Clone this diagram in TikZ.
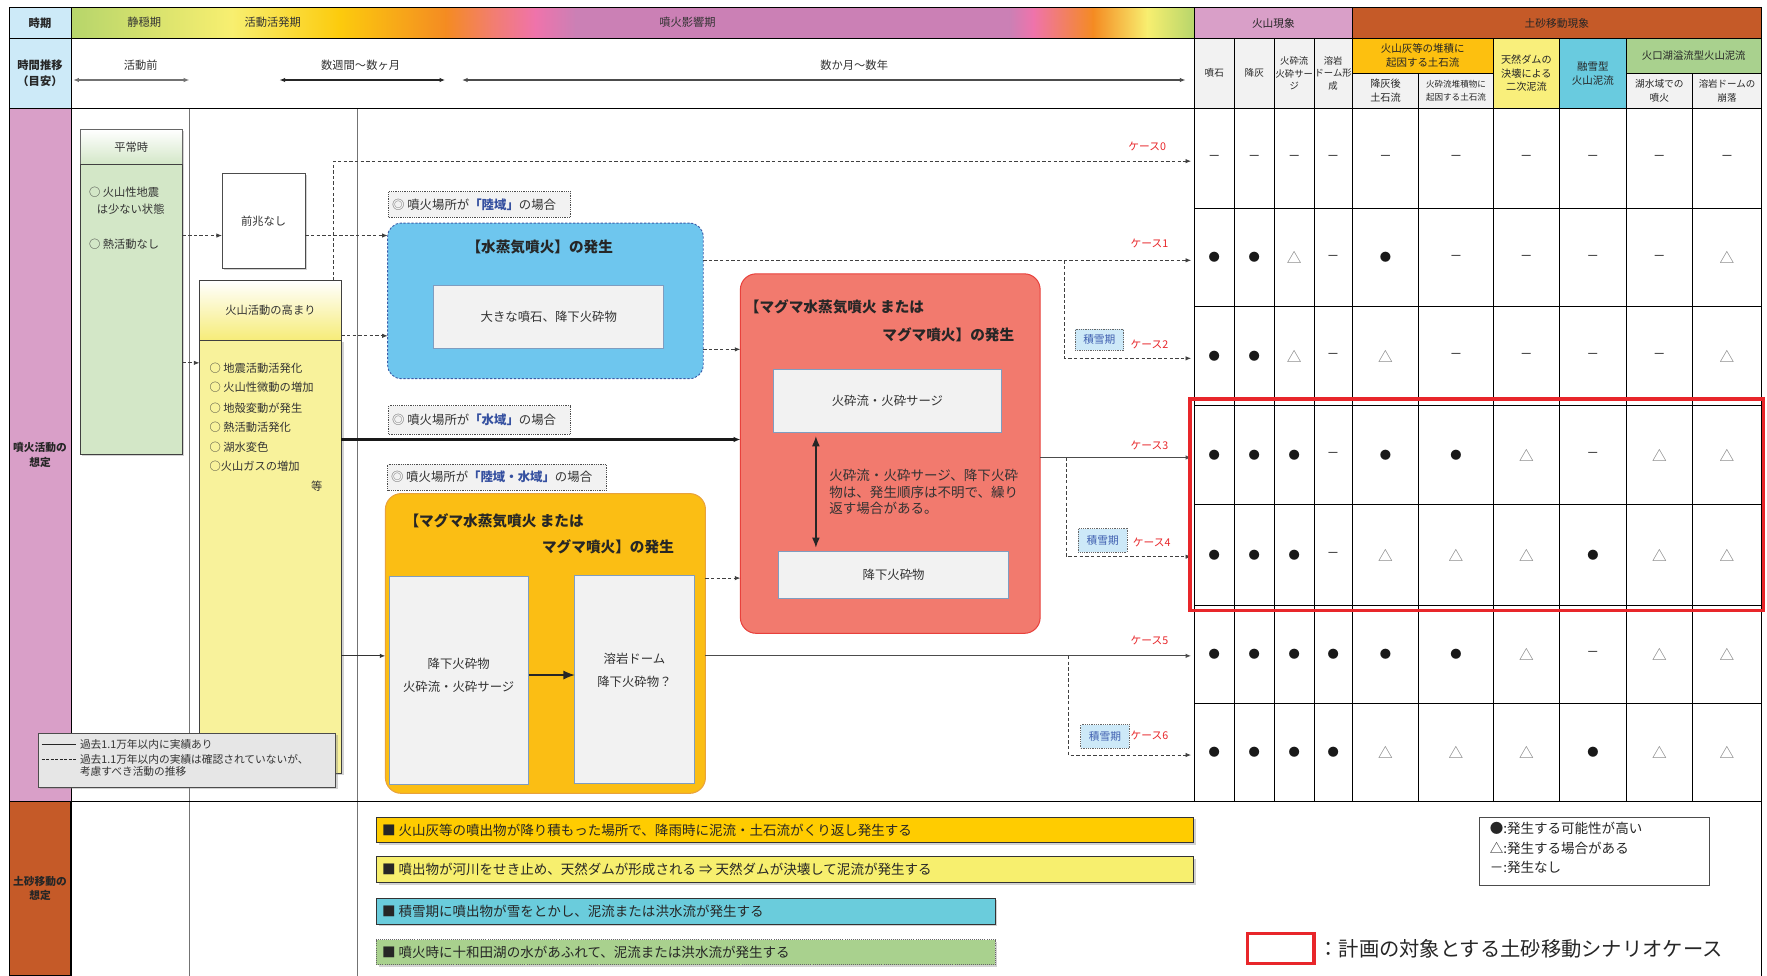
\documentclass[tikz,border=0pt]{standalone}
\usepackage{fontspec}
\setmainfont{Noto Sans CJK JP}
\usetikzlibrary{arrows.meta,shadows}
\definecolor{hdrblue}{HTML}{CDEAF8}
\definecolor{colpink}{HTML}{D99FC8}
\definecolor{colbrown}{HTML}{C55A28}
\definecolor{cellgray}{HTML}{F2F2F2}
\definecolor{cgold}{HTML}{FDC00F}
\definecolor{cpaley}{HTML}{F9EF7B}
\definecolor{ccyan}{HTML}{69CBDF}
\definecolor{cgreen}{HTML}{A9D18E}
\definecolor{gGreen}{HTML}{B6D56B}
\definecolor{gYellow}{HTML}{F8EF70}
\definecolor{gGold}{HTML}{FCCB0D}
\definecolor{gOrange}{HTML}{F48B22}
\definecolor{gSalmon}{HTML}{F27E6E}
\definecolor{gPink}{HTML}{EF73AB}
\definecolor{gMauve}{HTML}{CB80B5}
\definecolor{heijoG}{HTML}{D3E7C7}
\definecolor{takaY}{HTML}{F8F29B}
\definecolor{takaH}{HTML}{F6EC78}
\definecolor{sblue}{HTML}{6EC6EE}
\definecolor{sblueB}{HTML}{3B5BA8}
\definecolor{mred}{HTML}{F27A6E}
\definecolor{mredB}{HTML}{E8413C}
\definecolor{morange}{HTML}{FBBE14}
\definecolor{morangeB}{HTML}{E9A23B}
\definecolor{innerB}{HTML}{7F9DC0}
\definecolor{caseRed}{HTML}{E8262A}
\definecolor{snowB}{HTML}{CDE9F8}
\definecolor{snowT}{HTML}{3F5FB0}
\definecolor{legGray}{HTML}{E6E6E6}
\definecolor{landB}{HTML}{3550A0}
\definecolor{barGold}{HTML}{FFCC00}
\definecolor{barYel}{HTML}{F7EF6E}
\definecolor{barCyan}{HTML}{6ACCDC}
\definecolor{barGreen}{HTML}{A9D18E}
\newcommand\fsz[2]{\fontsize{#1}{#2}\selectfont}
\newcommand\rbox[6]{\node[#1, anchor=north west, minimum width={(#5)-(#3)}, minimum height={(#6)-(#4)}] (#2) at (#3,#4)}
\begin{document}
\begin{tikzpicture}[x=1pt,y=-1pt,
  nb/.style={inner sep=0pt, outer sep=0pt},
  cellb/.style={nb, draw=black, line width=0.8pt, align=center, text=black!85},
  hdr/.style={cellb, font=\fsz{8.5}{10.5}},
  dsh/.style={draw=black!75, line width=0.8pt, dash pattern=on 3pt off 2pt},
  sol/.style={draw=black!80, line width=0.9pt},
  arw/.style={-{Latex[length=5pt,width=4pt]}},
  darw/.style={{Latex[length=5pt,width=4pt]}-{Latex[length=5pt,width=4pt]}},
  txt/.style={nb, text=black!80},
  caselbl/.style={nb, text=caseRed, font=\fsz{9.5}{11}},
  snowbox/.style={nb, draw=black!60, densely dotted, fill=snowB, text=snowT, font=\fsz{9.5}{11}, line width=0.6pt},
  inbox/.style={nb, draw=innerB, line width=0.9pt, fill=cellgray, align=center, text=black!80, font=\fsz{11}{20}},
  plc/.style={nb, draw=black!70, densely dotted, fill=cellgray, line width=0.6pt},
  barbox/.style={nb, draw=black!80, line width=0.8pt, drop shadow={shadow xshift=2pt, shadow yshift=-2pt, fill=black!35, opacity=0.5}},
  sym/.style={nb, text=black!90},
]
\useasboundingbox (0,0) rectangle (1568,866);
\fill[white] (0,0) rectangle (1568,866);

% ---------- header gradient ----------
\foreach \a/\b/\ca/\cb in {63/206/gGreen/gYellow, 206/301/gYellow/gGold, 301/396/gGold/gOrange, 396/436/gOrange/gSalmon, 436/475/gSalmon/gPink, 475/511/gPink/gMauve, 511/896/gMauve/gMauve, 896/917/gMauve/gPink, 917/970/gPink/gOrange, 970/1018/gOrange/gYellow, 1018/1060/gYellow/gGreen}
  {\shade[left color=\ca, right color=\cb] (\a-0.3,7) rectangle (\b+0.3,34);}
\rbox{nb, draw=black, line width=0.9pt}{grad}{63}{7}{1060}{34}{};
\node[txt, font=\fsz{10}{12}] (p1) at (128,20) {静穏期};
\node[txt, font=\fsz{10}{12}] (p2) at (242,20) {活動活発期};
\node[txt, font=\fsz{10}{12}] (p3) at (610,20) {噴火影響期};

% ---------- left column ----------
\rbox{cellb, fill=hdrblue, font=\bfseries\fsz{10}{12}}{jiki}{8}{7}{63}{34}{時期};
\rbox{cellb, fill=hdrblue, font=\bfseries\fsz{10}{14}}{suii}{8}{34}{63}{96}{時間推移\\（目安）};
\rbox{cellb, fill=colpink, font=\bfseries\fsz{9.5}{13}}{funka}{8}{96}{63}{711}{噴火活動の\\想定};
\rbox{cellb, fill=colbrown, font=\bfseries\fsz{9.5}{13}}{dosha}{8}{711}{63}{866}{土砂移動の\\想定};
\rbox{cellb}{row2}{63}{34}{1060}{96}{};

% ---------- time arrows ----------
\node[txt, font=\fsz{10}{12}] (tl1) at (125,58) {活動前};
\node[txt, font=\fsz{10}{12}] (tl2) at (320,58) {数週間～数ヶ月};
\node[txt, font=\fsz{10}{12}] (tl3) at (758,58) {数か月～数年};
\coordinate (a1s) at (65,71); \coordinate (a1e) at (168,71);
\coordinate (a2s) at (248,71); \coordinate (a2e) at (395,71);
\coordinate (a3s) at (410,71); \coordinate (a3e) at (1052,71);
\draw[darw, draw=black!55, line width=1pt] (a1s) -- (a1e);
\draw[darw, draw=black!85, line width=1pt] (a2s) -- (a2e);
\draw[darw, draw=black!70, line width=1pt] (a3s) -- (a3e);

% ---------- right header ----------
\rbox{cellb, fill=colpink, font=\fsz{9.5}{12}}{kazan}{1060}{7}{1200}{34}{火山現象};
\rbox{cellb, fill=colbrown, font=\fsz{9.5}{12}}{doshaH}{1200}{7}{1563}{34}{土砂移動現象};
\rbox{hdr, fill=cellgray}{h1}{1060}{34}{1095}{96}{噴石};
\rbox{hdr, fill=cellgray}{h2}{1095}{34}{1131}{96}{降灰};
\rbox{hdr, fill=cellgray, font=\fsz{8.3}{11}}{h3}{1131}{34}{1166}{96}{火砕流\\火砕サー\\ジ};
\rbox{hdr, fill=cellgray, font=\fsz{8.3}{11}}{h4}{1166}{34}{1200}{96}{溶岩\\ドーム形\\成};
\rbox{hdr, fill=cgold, font=\fsz{9.3}{12}}{h5}{1200}{34}{1325}{65}{火山灰等の堆積に\\起因する土石流};
\rbox{hdr, fill=cellgray, font=\fsz{9}{12}}{h5a}{1200}{65}{1259}{96}{降灰後\\土石流};
\rbox{hdr, fill=cellgray, font=\fsz{7.6}{11}}{h5b}{1259}{65}{1325}{96}{火砕流堆積物に\\起因する土石流};
\rbox{hdr, fill=cpaley, font=\fsz{9}{12}}{h6}{1325}{34}{1384}{96}{天然ダムの\\決壊による\\二次泥流};
\rbox{hdr, fill=ccyan, font=\fsz{9.3}{12.5}}{h7}{1384}{34}{1443}{96}{融雪型\\火山泥流};
\rbox{hdr, fill=cgreen, font=\fsz{9.2}{12}}{h8}{1443}{34}{1563}{65}{火口湖溢流型火山泥流};
\rbox{hdr, fill=cellgray, font=\fsz{8.6}{12}}{h8a}{1443}{65}{1502}{96}{湖水域での\\噴火};
\rbox{hdr, fill=cellgray, font=\fsz{8.4}{12}}{h8b}{1502}{65}{1563}{96}{溶岩ドームの\\崩落};

% ---------- frame and grid ----------
\draw[black!55, line width=0.6pt] (168,96) -- (168,866);
\draw[black!55, line width=0.6pt] (317,96) -- (317,866);
\draw[line width=0.9pt] (8,96) -- (1563,96);
\draw[line width=1pt] (8,711) -- (1563,711);
\draw[line width=0.9pt] (1563,7) -- (1563,866);
\draw[line width=0.9pt] (63,711) -- (63,866);
\foreach \x in {1060,1095,1131,1166,1200,1259,1325,1384,1443,1502}
  {\draw[line width=0.8pt] (\x,96) -- (\x,711);}
\foreach \y in {185,272,360,448,537,624}
  {\draw[line width=0.8pt] (1060,\y) -- (1563,\y);}

% ---------- table symbols ----------
\foreach \yc/\syms [count=\r from 0] in {140.5/{n,n,n,n,n,n,n,n,n,n}, 228.5/{b,b,t,n,b,n,n,n,n,t}, 316/{b,b,t,n,t,n,n,n,n,t}, 404/{b,b,b,n,b,b,t,n,t,t}, 492.5/{b,b,b,n,t,t,t,b,t,t}, 580.5/{b,b,b,b,b,b,t,n,t,t}, 667.5/{b,b,b,b,t,t,t,b,t,t}}{
  \foreach \s [count=\c from 0] in \syms {
    \pgfmathsetmacro\xc{{1077.5,1113,1148.5,1183,1229.5,1292,1354.5,1413.5,1472.5,1532.5}[\c]}
    \node[sym] (s\r-\c) at (\xc,\yc) {\if\s b{\fsz{10}{10}●}\else\if\s t{\fsz{13}{13}\textcolor{black!55}{△}}\else{\fsz{11}{11}－}\fi\fi};
  }
}

% ---------- 平常時 ----------
\rbox{nb, draw=black!60, line width=0.8pt, top color=white, bottom color=heijoG, font=\fsz{10}{12}, text=black!80, drop shadow={shadow xshift=1.5pt, shadow yshift=-1.5pt, opacity=0.35}}{heijoH}{71}{115}{162}{146}{平常時};
\rbox{nb, draw=black!75, line width=0.8pt, fill=heijoG, drop shadow={shadow xshift=1.5pt, shadow yshift=-1.5pt, opacity=0.35}}{heijoB}{71}{146}{162}{403}{};
\node[txt, anchor=west, font=\fsz{10}{12}] (hj1) at (79,171) {○ 火山性地震};
\node[txt, anchor=west, font=\fsz{10}{12}] (hj2) at (86,186) {は少ない状態};
\node[txt, anchor=west, font=\fsz{10}{12}] (hj3) at (79,217) {○ 熱活動なし};

% ---------- 前兆なし ----------
\rbox{nb, draw=black!70, line width=0.8pt, fill=white, font=\fsz{10}{12}, text=black!80, drop shadow={shadow xshift=1.5pt, shadow yshift=-1.5pt, opacity=0.35}}{zen}{197}{154}{271}{238}{前兆なし};

% ---------- 火山活動の高まり ----------
\rbox{nb, draw=black!75, line width=0.8pt, fill=takaY, drop shadow={shadow xshift=2pt, shadow yshift=-1.5pt, opacity=0.35}}{takaB}{177}{302}{303}{686}{};
\rbox{nb, draw=black!75, line width=0.8pt, top color=white, bottom color=takaH, font=\fsz{10}{12}, text=black!80}{takaT}{177}{249}{303}{302}{火山活動の高まり};
\node[txt, anchor=west, font=\fsz{10}{12}] (tk1) at (186,327) {○ 地震活動活発化};
\node[txt, anchor=west, font=\fsz{10}{12}] (tk2) at (186,344) {○ 火山性微動の増加};
\node[txt, anchor=west, font=\fsz{10}{12}] (tk3) at (186,362) {○ 地殻変動が発生};
\node[txt, anchor=west, font=\fsz{10}{12}] (tk4) at (186,379.5) {○ 熱活動活発化};
\node[txt, anchor=west, font=\fsz{10}{12}] (tk5) at (186,396.5) {○ 湖水変色};
\node[txt, anchor=west, font=\fsz{10}{12}] (tk6) at (186,414) {○火山ガスの増加};
\node[txt, font=\fsz{10}{12}] (tk7) at (281,431) {等};

% ---------- place labels ----------
\rbox{plc}{plcL}{345}{170}{506}{193}{};
\node[txt, anchor=west, font=\fsz{11}{13}] (plcLt) at ([xshift=3pt]plcL.west) {\textcolor{black!60}{◎} 噴火場所が\textcolor{landB}{\bfseries 「陸域」}の場合};
\rbox{plc}{plcW}{345}{360}{506}{385}{};
\node[txt, anchor=west, font=\fsz{11}{13}] (plcWt) at ([xshift=3pt]plcW.west) {\textcolor{black!60}{◎} 噴火場所が\textcolor{landB}{\bfseries 「水域」}の場合};
\rbox{plc}{plcB}{344}{412}{538}{435}{};
\node[txt, anchor=west, font=\fsz{11}{13}] (plcBt) at ([xshift=3pt]plcB.west) {\textcolor{black!60}{◎} 噴火場所が\textcolor{landB}{\bfseries 「陸域・水域」}の場合};

% ---------- 水蒸気噴火 ----------
\rbox{nb, fill=sblue, draw=sblueB, line width=0.8pt, dash pattern=on 2pt off 1.5pt, rounded corners=12pt}{suijo}{344}{198}{624}{336}{};
\node[nb, font=\bfseries\fsz{13}{15}, text=black!85] (suijoT) at (479,219) {【水蒸気噴火】の発生};
\rbox{inbox}{suijoI}{385}{253}{589}{309}{大きな噴石、降下火砕物};

% ---------- マグマ (red) ----------
\rbox{nb, fill=mred, draw=mredB, line width=0.9pt, rounded corners=14pt}{magma}{657}{243}{923}{562}{};
\node[nb, anchor=west, font=\bfseries\fsz{13}{15}, text=black!85] (magmaT1) at (661,272) {【マグマ水蒸気噴火 または};
\node[nb, anchor=east, font=\bfseries\fsz{13}{15}, text=black!85] (magmaT2) at (900,297) {マグマ噴火】の発生};
\rbox{inbox}{pyro}{686}{328}{889}{384}{火砕流・火砕サージ};
\rbox{inbox}{fall}{691}{489}{895}{531}{降下火砕物};
\draw[line width=1.1pt, black!85, {Latex[length=9pt,width=7pt]}-{Latex[length=9pt,width=7pt]}, shorten <=3pt, shorten >=3pt] (pyro.south -| 724,0) -- (fall.north -| 724,0);
\node[txt, anchor=west, align=left, font=\fsz{12}{14.5}] (magmaN) at (736,436.5) {火砕流・火砕サージ、降下火砕\\物は、発生順序は不明で、繰り\\返す場合がある。};

% ---------- マグマ (orange) ----------
\rbox{nb, fill=morange, draw=morangeB, line width=0.9pt, rounded corners=14pt}{orng}{342}{438}{626}{704}{};
\node[nb, anchor=west, font=\bfseries\fsz{13}{15}, text=black!85] (orngT1) at (359,462) {【マグマ水蒸気噴火 または};
\node[nb, anchor=east, font=\bfseries\fsz{13}{15}, text=black!85] (orngT2) at (598,485) {マグマ噴火】の発生};
\rbox{inbox}{oL}{346}{512}{469}{696}{};
\node[txt, align=center, font=\fsz{11}{20}] (oLt) at (407,599) {降下火砕物\\火砕流・火砕サージ};
\rbox{inbox}{oR}{510}{511}{616}{695}{};
\node[txt, align=center, font=\fsz{11}{20}] (oRt) at (563,595) {溶岩ドーム\\降下火砕物？};
\draw[line width=1pt, black!85, -{Latex[length=10pt,width=8pt]}] (oL.east |- 0,599) -- (oR.west |- 0,599);

% ---------- table entry points ----------
\coordinate (t0) at (1057,143);
\coordinate (t1) at (1057,231);
\coordinate (t2) at (1057,318);
\coordinate (t3) at (1057,406);
\coordinate (t4) at (1057,494);
\coordinate (t5) at (1057,582);
\coordinate (t6) at (1057,670);
\coordinate (b1) at (945,231);
\coordinate (b3) at (946,406);
\coordinate (b5) at (948,582);

% ---------- connectors ----------
\draw[dsh, arw] (heijoB.east |- 0,209) -- (zen.west |- 0,209);
\draw[dsh, arw] (heijoB.east |- 0,322) -- (takaB.west |- 0,322);
\draw[dsh, arw] (zen.east |- 0,209) -- (suijo.west |- 0,209);
\draw[dsh, arw] (takaT.north -| 296,0) |- (t0);
\draw[dsh, arw] (takaT.east |- 0,298) -- (suijo.west |- 0,298);
\draw[draw=black!90, line width=2pt, -{Latex[length=6pt,width=5pt]}] (takaB.east |- 0,390) -- (magma.west |- 0,390);
\draw[sol, arw] (takaB.east |- 0,582) -- (orng.west |- 0,582);
\draw[dsh, arw] (suijo.east |- 0,231) -- (t1);
\draw[dsh, arw] (b1) |- (t2);
\draw[dsh, arw] (suijo.east |- 0,310) -- (magma.west |- 0,310);
\draw[sol, draw=black!70, arw] (magma.east |- 0,406) -- (t3);
\draw[dsh, arw] (b3) |- (t4);
\draw[dsh, arw] (orng.east |- 0,513) -- (magma.west |- 0,513);
\draw[sol, draw=black!70, arw] (orng.east |- 0,582) -- (t5);
\draw[dsh, arw] (b5) |- (t6);

% ---------- case labels ----------
\node[caselbl] (c0) at (1018,130) {ケース0};
\node[caselbl] (c1) at (1020,216) {ケース1};
\node[caselbl] (c2) at (1020,306) {ケース2};
\node[caselbl] (c3) at (1020,395) {ケース3};
\node[caselbl] (c4) at (1022,481) {ケース4};
\node[caselbl] (c5) at (1020,568) {ケース5};
\node[caselbl] (c6) at (1020,653) {ケース6};
\rbox{snowbox}{sn2}{954}{292}{997}{311}{積雪期};
\rbox{snowbox}{sn4}{957}{469}{1000}{490}{積雪期};
\rbox{snowbox}{sn6}{959}{643}{1002}{664}{積雪期};

% ---------- highlight ----------
\node[nb, draw=caseRed, line width=3pt, anchor=north west, minimum width=509, minimum height=188] (focus) at (1056,354) {};

% ---------- legend (left) ----------
\rbox{nb, fill=legGray, draw=black!70, line width=0.8pt, drop shadow={shadow xshift=1.5pt, shadow yshift=-1.5pt, opacity=0.35}}{legL}{34}{651}{298}{699}{};
\draw[black!85, line width=0.8pt] (37,661) -- (67,661);
\draw[black!85, line width=0.8pt, dash pattern=on 2.5pt off 1.5pt] (37,673.5) -- (67,673.5);
\node[txt, anchor=west, font=\fsz{9.5}{12}] (lg1) at (71,661) {過去1.1万年以内に実績あり};
\node[txt, anchor=west, font=\fsz{9.5}{12}] (lg2) at (71,673.5) {過去1.1万年以内の実績は確認されていないが、};
\node[txt, anchor=west, font=\fsz{9.5}{12}] (lg3) at (71,685) {考慮すべき活動の推移};

% ---------- bottom bars ----------
\rbox{barbox, fill=barGold}{bar1}{334}{725}{1059}{748}{};
\node[txt, anchor=west, font=\fsz{12}{14}, text=black!85] (bar1t) at ([xshift=5pt]bar1.west) {■ 火山灰等の噴出物が降り積もった場所で、降雨時に泥流・土石流がくり返し発生する};
\rbox{barbox, fill=barYel}{bar2}{334}{760}{1059}{783}{};
\node[txt, anchor=west, font=\fsz{12}{14}, text=black!85] (bar2t) at ([xshift=5pt]bar2.west) {■ 噴出物が河川をせき止め、天然ダムが形成される ⇒ 天然ダムが決壊して泥流が発生する};
\rbox{barbox, fill=barCyan}{bar3}{334}{797}{883}{820}{};
\node[txt, anchor=west, font=\fsz{12}{14}, text=black!85] (bar3t) at ([xshift=5pt]bar3.west) {■ 積雪期に噴出物が雪をとかし、泥流または洪水流が発生する};
\rbox{barbox, fill=barGreen, draw=black!60, densely dotted}{bar4}{334}{834}{883}{856}{};
\node[txt, anchor=west, font=\fsz{12}{14}, text=black!85] (bar4t) at ([xshift=5pt]bar4.west) {■ 噴火時に十和田湖の水があふれて、泥流または洪水流が発生する};

% ---------- legend (right) ----------
\rbox{nb, draw=black!70, line width=0.8pt, fill=white}{legS}{1313}{725}{1517}{786}{};
\node[txt, anchor=west, font=\fsz{12}{14}, text=black!85] (ls1) at (1322,735) {●:発生する可能性が高い};
\node[txt, anchor=west, font=\fsz{12}{14}, text=black!85] (ls2) at (1322,752.5) {△:発生する場合がある};
\node[txt, anchor=west, font=\fsz{12}{14}, text=black!85] (ls3) at (1322,770) {－:発生なし};
\rbox{nb, draw=caseRed, line width=2.8pt}{legR}{1107}{828}{1166}{855}{};
\node[txt, anchor=west, font=\fsz{18}{20}, text=black!85] (legRt) at (1170,842) {：計画の対象とする土砂移動シナリオケース};
\end{tikzpicture}
\end{document}
